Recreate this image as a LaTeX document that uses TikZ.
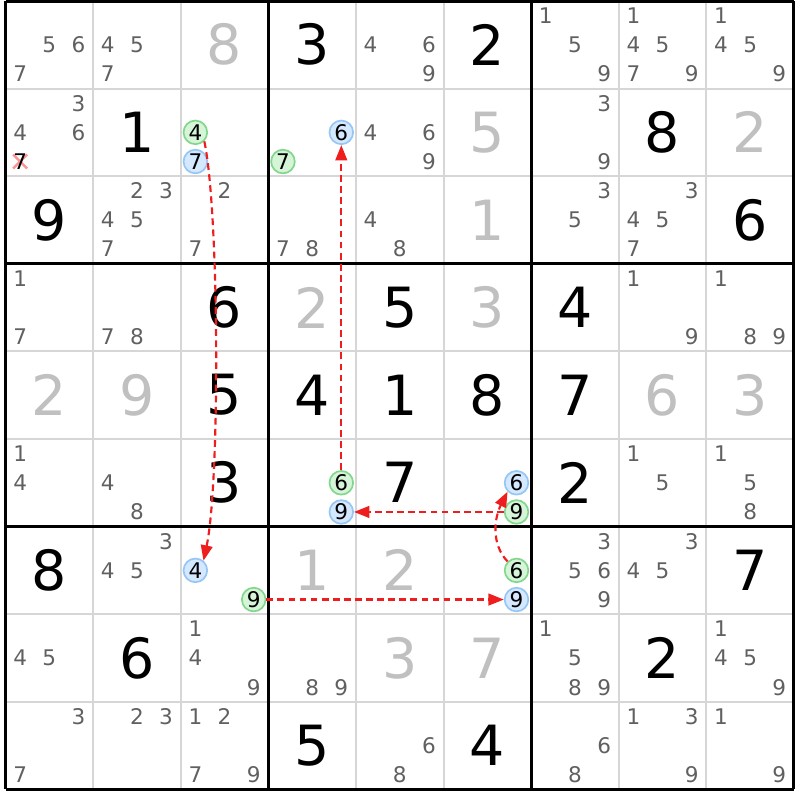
\documentclass[tikz,border=0pt]{standalone}
\usepackage{fontspec}
\setmainfont{DejaVu Sans}
\usetikzlibrary{arrows.meta}

\begin{document}
\begin{tikzpicture}[
    sdk_given/.style={inner sep=0pt,font=\fontsize{18}{18}\selectfont,text=black},
    sdk_solved/.style={sdk_given,text=sdk_solvedgray},
    sdk_cand/.style={inner sep=0pt,font=\fontsize{7}{7}\selectfont,text=sdk_candgray},
    sdk_on/.style={sdk_cand,text=black,shape=circle,draw=sdk_green,fill=sdk_greenfill,line width=0.55pt,minimum size=0.27cm},
    sdk_off/.style={sdk_cand,text=black,shape=circle,draw=sdk_blue,fill=sdk_bluefill,line width=0.55pt,minimum size=0.27cm},
    sdk_link/.style={draw=sdk_red,line width=0.7pt,dash pattern=on 2.2pt off 1.4pt,-{Triangle[length=5pt,width=3.8pt]}},
    sdk_thin/.style={draw=sdk_thingray,line width=0.65pt},
    sdk_thick/.style={draw=black,line width=1pt},
    sdk_cross/.style={draw=sdk_crossred,line width=0.8pt}]
    \definecolor{sdk_solvedgray}{RGB}{192,192,192}
    \definecolor{sdk_candgray}{RGB}{96,96,96}
    \definecolor{sdk_thingray}{RGB}{214,214,214}
    \definecolor{sdk_green}{RGB}{130,215,140}
    \definecolor{sdk_greenfill}{RGB}{214,244,216}
    \definecolor{sdk_blue}{RGB}{150,198,245}
    \definecolor{sdk_bluefill}{RGB}{212,232,255}
    \definecolor{sdk_red}{RGB}{238,30,30}
    \definecolor{sdk_crossred}{RGB}{250,150,150}
    \useasboundingbox (-0.063,-0.121) rectangle (9.069,9.011);
    \draw[sdk_thin] (0,0) grid (9,9);
    \draw[sdk_thick] (0,0) grid[step=3] (9,9);
    \draw[sdk_cross] (0.087,7.087) -- (0.247,7.247) (0.087,7.247) -- (0.247,7.087);

    \node[sdk_cand] (c11d5) at (0.5,8.5) {5};
    \node[sdk_cand] (c11d6) at (0.833,8.5) {6};
    \node[sdk_cand] (c11d7) at (0.167,8.167) {7};
    \node[sdk_cand] (c12d4) at (1.167,8.5) {4};
    \node[sdk_cand] (c12d5) at (1.5,8.5) {5};
    \node[sdk_cand] (c12d7) at (1.167,8.167) {7};
    \node[sdk_solved] (c13) at (2.5,8.5) {8};
    \node[sdk_given] (c14) at (3.5,8.5) {3};
    \node[sdk_cand] (c15d4) at (4.167,8.5) {4};
    \node[sdk_cand] (c15d6) at (4.833,8.5) {6};
    \node[sdk_cand] (c15d9) at (4.833,8.167) {9};
    \node[sdk_given] (c16) at (5.5,8.5) {2};
    \node[sdk_cand] (c17d1) at (6.167,8.833) {1};
    \node[sdk_cand] (c17d5) at (6.5,8.5) {5};
    \node[sdk_cand] (c17d9) at (6.833,8.167) {9};
    \node[sdk_cand] (c18d1) at (7.167,8.833) {1};
    \node[sdk_cand] (c18d4) at (7.167,8.5) {4};
    \node[sdk_cand] (c18d5) at (7.5,8.5) {5};
    \node[sdk_cand] (c18d7) at (7.167,8.167) {7};
    \node[sdk_cand] (c18d9) at (7.833,8.167) {9};
    \node[sdk_cand] (c19d1) at (8.167,8.833) {1};
    \node[sdk_cand] (c19d4) at (8.167,8.5) {4};
    \node[sdk_cand] (c19d5) at (8.5,8.5) {5};
    \node[sdk_cand] (c19d9) at (8.833,8.167) {9};

    \node[sdk_cand] (c21d3) at (0.833,7.833) {3};
    \node[sdk_cand] (c21d4) at (0.167,7.5) {4};
    \node[sdk_cand] (c21d6) at (0.833,7.5) {6};
    \node[sdk_cand,text=black] (c21d7) at (0.167,7.167) {7};
    \node[sdk_given] (c22) at (1.5,7.5) {1};
    \node[sdk_on] (c23d4) at (2.167,7.5) {4};
    \node[sdk_off] (c23d7) at (2.167,7.167) {7};
    \node[sdk_off] (c24d6) at (3.833,7.5) {6};
    \node[sdk_on] (c24d7) at (3.167,7.167) {7};
    \node[sdk_cand] (c25d4) at (4.167,7.5) {4};
    \node[sdk_cand] (c25d6) at (4.833,7.5) {6};
    \node[sdk_cand] (c25d9) at (4.833,7.167) {9};
    \node[sdk_solved] (c26) at (5.5,7.5) {5};
    \node[sdk_cand] (c27d3) at (6.833,7.833) {3};
    \node[sdk_cand] (c27d9) at (6.833,7.167) {9};
    \node[sdk_given] (c28) at (7.5,7.5) {8};
    \node[sdk_solved] (c29) at (8.5,7.5) {2};

    \node[sdk_given] (c31) at (0.5,6.5) {9};
    \node[sdk_cand] (c32d2) at (1.5,6.833) {2};
    \node[sdk_cand] (c32d3) at (1.833,6.833) {3};
    \node[sdk_cand] (c32d4) at (1.167,6.5) {4};
    \node[sdk_cand] (c32d5) at (1.5,6.5) {5};
    \node[sdk_cand] (c32d7) at (1.167,6.167) {7};
    \node[sdk_cand] (c33d2) at (2.5,6.833) {2};
    \node[sdk_cand] (c33d7) at (2.167,6.167) {7};
    \node[sdk_cand] (c34d7) at (3.167,6.167) {7};
    \node[sdk_cand] (c34d8) at (3.5,6.167) {8};
    \node[sdk_cand] (c35d4) at (4.167,6.5) {4};
    \node[sdk_cand] (c35d8) at (4.5,6.167) {8};
    \node[sdk_solved] (c36) at (5.5,6.5) {1};
    \node[sdk_cand] (c37d3) at (6.833,6.833) {3};
    \node[sdk_cand] (c37d5) at (6.5,6.5) {5};
    \node[sdk_cand] (c38d3) at (7.833,6.833) {3};
    \node[sdk_cand] (c38d4) at (7.167,6.5) {4};
    \node[sdk_cand] (c38d5) at (7.5,6.5) {5};
    \node[sdk_cand] (c38d7) at (7.167,6.167) {7};
    \node[sdk_given] (c39) at (8.5,6.5) {6};

    \node[sdk_cand] (c41d1) at (0.167,5.833) {1};
    \node[sdk_cand] (c41d7) at (0.167,5.167) {7};
    \node[sdk_cand] (c42d7) at (1.167,5.167) {7};
    \node[sdk_cand] (c42d8) at (1.5,5.167) {8};
    \node[sdk_given] (c43) at (2.5,5.5) {6};
    \node[sdk_solved] (c44) at (3.5,5.5) {2};
    \node[sdk_given] (c45) at (4.5,5.5) {5};
    \node[sdk_solved] (c46) at (5.5,5.5) {3};
    \node[sdk_given] (c47) at (6.5,5.5) {4};
    \node[sdk_cand] (c48d1) at (7.167,5.833) {1};
    \node[sdk_cand] (c48d9) at (7.833,5.167) {9};
    \node[sdk_cand] (c49d1) at (8.167,5.833) {1};
    \node[sdk_cand] (c49d8) at (8.5,5.167) {8};
    \node[sdk_cand] (c49d9) at (8.833,5.167) {9};

    \node[sdk_solved] (c51) at (0.5,4.5) {2};
    \node[sdk_solved] (c52) at (1.5,4.5) {9};
    \node[sdk_given] (c53) at (2.5,4.5) {5};
    \node[sdk_given] (c54) at (3.5,4.5) {4};
    \node[sdk_given] (c55) at (4.5,4.5) {1};
    \node[sdk_given] (c56) at (5.5,4.5) {8};
    \node[sdk_given] (c57) at (6.5,4.5) {7};
    \node[sdk_solved] (c58) at (7.5,4.5) {6};
    \node[sdk_solved] (c59) at (8.5,4.5) {3};

    \node[sdk_cand] (c61d1) at (0.167,3.833) {1};
    \node[sdk_cand] (c61d4) at (0.167,3.5) {4};
    \node[sdk_cand] (c62d4) at (1.167,3.5) {4};
    \node[sdk_cand] (c62d8) at (1.5,3.167) {8};
    \node[sdk_given] (c63) at (2.5,3.5) {3};
    \node[sdk_on] (c64d6) at (3.833,3.5) {6};
    \node[sdk_off] (c64d9) at (3.833,3.167) {9};
    \node[sdk_given] (c65) at (4.5,3.5) {7};
    \node[sdk_off] (c66d6) at (5.833,3.5) {6};
    \node[sdk_on] (c66d9) at (5.833,3.167) {9};
    \node[sdk_given] (c67) at (6.5,3.5) {2};
    \node[sdk_cand] (c68d1) at (7.167,3.833) {1};
    \node[sdk_cand] (c68d5) at (7.5,3.5) {5};
    \node[sdk_cand] (c69d1) at (8.167,3.833) {1};
    \node[sdk_cand] (c69d5) at (8.5,3.5) {5};
    \node[sdk_cand] (c69d8) at (8.5,3.167) {8};

    \node[sdk_given] (c71) at (0.5,2.5) {8};
    \node[sdk_cand] (c72d3) at (1.833,2.833) {3};
    \node[sdk_cand] (c72d4) at (1.167,2.5) {4};
    \node[sdk_cand] (c72d5) at (1.5,2.5) {5};
    \node[sdk_off] (c73d4) at (2.167,2.5) {4};
    \node[sdk_on] (c73d9) at (2.833,2.167) {9};
    \node[sdk_solved] (c74) at (3.5,2.5) {1};
    \node[sdk_solved] (c75) at (4.5,2.5) {2};
    \node[sdk_on] (c76d6) at (5.833,2.5) {6};
    \node[sdk_off] (c76d9) at (5.833,2.167) {9};
    \node[sdk_cand] (c77d3) at (6.833,2.833) {3};
    \node[sdk_cand] (c77d5) at (6.5,2.5) {5};
    \node[sdk_cand] (c77d6) at (6.833,2.5) {6};
    \node[sdk_cand] (c77d9) at (6.833,2.167) {9};
    \node[sdk_cand] (c78d3) at (7.833,2.833) {3};
    \node[sdk_cand] (c78d4) at (7.167,2.5) {4};
    \node[sdk_cand] (c78d5) at (7.5,2.5) {5};
    \node[sdk_given] (c79) at (8.5,2.5) {7};

    \node[sdk_cand] (c81d4) at (0.167,1.5) {4};
    \node[sdk_cand] (c81d5) at (0.5,1.5) {5};
    \node[sdk_given] (c82) at (1.5,1.5) {6};
    \node[sdk_cand] (c83d1) at (2.167,1.833) {1};
    \node[sdk_cand] (c83d4) at (2.167,1.5) {4};
    \node[sdk_cand] (c83d9) at (2.833,1.167) {9};
    \node[sdk_cand] (c84d8) at (3.5,1.167) {8};
    \node[sdk_cand] (c84d9) at (3.833,1.167) {9};
    \node[sdk_solved] (c85) at (4.5,1.5) {3};
    \node[sdk_solved] (c86) at (5.5,1.5) {7};
    \node[sdk_cand] (c87d1) at (6.167,1.833) {1};
    \node[sdk_cand] (c87d5) at (6.5,1.5) {5};
    \node[sdk_cand] (c87d8) at (6.5,1.167) {8};
    \node[sdk_cand] (c87d9) at (6.833,1.167) {9};
    \node[sdk_given] (c88) at (7.5,1.5) {2};
    \node[sdk_cand] (c89d1) at (8.167,1.833) {1};
    \node[sdk_cand] (c89d4) at (8.167,1.5) {4};
    \node[sdk_cand] (c89d5) at (8.5,1.5) {5};
    \node[sdk_cand] (c89d9) at (8.833,1.167) {9};

    \node[sdk_cand] (c91d3) at (0.833,0.833) {3};
    \node[sdk_cand] (c91d7) at (0.167,0.167) {7};
    \node[sdk_cand] (c92d2) at (1.5,0.833) {2};
    \node[sdk_cand] (c92d3) at (1.833,0.833) {3};
    \node[sdk_cand] (c93d1) at (2.167,0.833) {1};
    \node[sdk_cand] (c93d2) at (2.5,0.833) {2};
    \node[sdk_cand] (c93d7) at (2.167,0.167) {7};
    \node[sdk_cand] (c93d9) at (2.833,0.167) {9};
    \node[sdk_given] (c94) at (3.5,0.5) {5};
    \node[sdk_cand] (c95d6) at (4.833,0.5) {6};
    \node[sdk_cand] (c95d8) at (4.5,0.167) {8};
    \node[sdk_given] (c96) at (5.5,0.5) {4};
    \node[sdk_cand] (c97d6) at (6.833,0.5) {6};
    \node[sdk_cand] (c97d8) at (6.5,0.167) {8};
    \node[sdk_cand] (c98d1) at (7.167,0.833) {1};
    \node[sdk_cand] (c98d3) at (7.833,0.833) {3};
    \node[sdk_cand] (c98d9) at (7.833,0.167) {9};
    \node[sdk_cand] (c99d1) at (8.167,0.833) {1};
    \node[sdk_cand] (c99d9) at (8.833,0.167) {9};

    \draw[sdk_link] (c23d4.-45) .. controls (2.44,6.6) and (2.45,3.5) .. (c73d4.50);
    \draw[sdk_link] (c64d6) -- (c24d6);
    \draw[sdk_link] (c66d9) -- (c64d9);
    \draw[sdk_link] (c76d6.135) .. controls (5.54,2.8) and (5.58,3.1) .. (c66d6.225);
    \draw[sdk_link] (c73d9) -- (c76d9);
\end{tikzpicture}
\end{document}
